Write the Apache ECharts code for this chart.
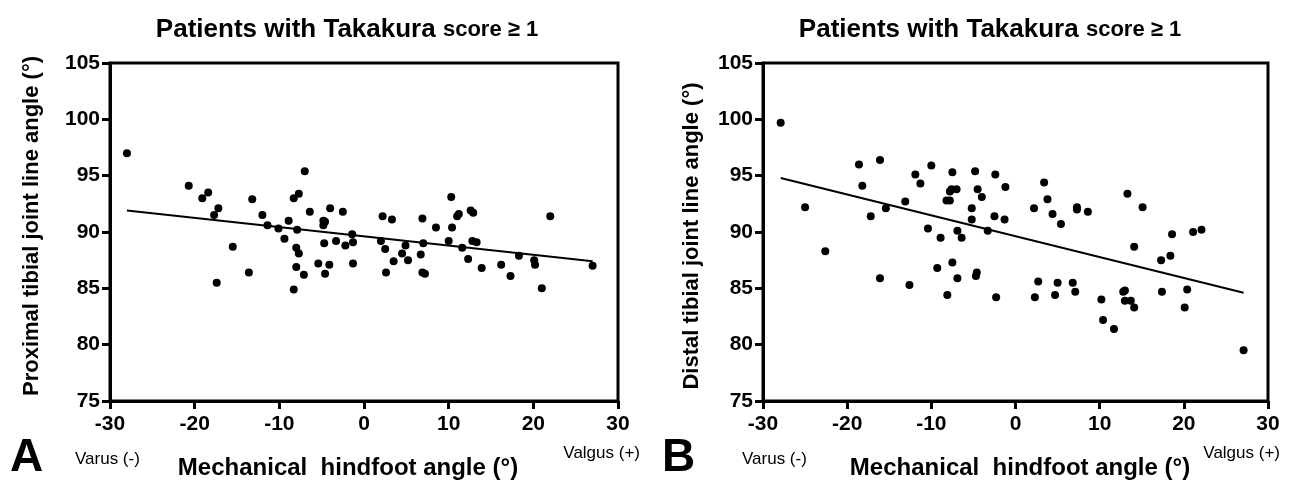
<!DOCTYPE html>
<html>
<head>
<meta charset="UTF-8">
<title>Takakura score scatter</title>
<script src="https://cdn.jsdelivr.net/npm/echarts@6/dist/echarts.min.js"></script>
<style>
  html, body { margin: 0; padding: 0; background: #fff; }
  #chart { width: 1295px; height: 487px; }
</style>
</head>
<body>
<div id="chart"></div>
<script>
  // Panel A: mechanical hindfoot angle vs proximal tibial joint line angle
  var hindfootA = [-28.0, -20.7, -19.1, -18.4, -17.2, -17.7, -17.4, -15.5, -13.6, -13.2,
    -12.0, -11.4, -10.1, -9.4, -8.9, -8.3, -7.7, -7.9, -8.0, -7.7,
    -8.0, -8.3, -7.1, -7.0, -6.4, -5.4, -4.8, -4.6, -4.8, -4.7,
    -4.6, -4.1, -4.0, -3.3, -2.5, -2.2, -1.4, -1.3, -1.3, 2.0,
    2.2, 2.5, 2.6, 3.3, 3.5, 4.5, 4.9, 5.2, 6.7, 6.9,
    7.0, 6.9, 7.2, 8.5, 10.0, 10.3, 10.4, 11.0, 11.2, 11.6,
    12.3, 12.6, 12.9, 12.8, 13.3, 13.9, 16.2, 17.3, 18.3, 20.1,
    20.2, 21.0, 22.0, 27.0];
  var proximalA = [97.0, 94.1, 93.0, 93.5, 92.1, 91.5, 85.5, 88.7, 86.4, 92.9,
    91.5, 90.6, 90.3, 89.4, 91.0, 93.0, 93.4, 90.2, 88.6, 88.1,
    86.9, 84.9, 86.2, 95.4, 91.8, 87.2, 91.0, 90.9, 90.6, 89.0,
    86.3, 87.1, 92.1, 89.2, 91.8, 88.8, 89.8, 89.1, 87.2, 89.2,
    91.4, 88.5, 86.4, 91.1, 87.4, 88.1, 88.8, 87.5, 88.0, 91.2,
    89.0, 86.4, 86.3, 90.4, 89.2, 93.1, 90.4, 91.4, 91.6, 88.6,
    87.6, 91.9, 91.7, 89.2, 89.1, 86.8, 87.1, 86.1, 87.9, 87.5,
    87.1, 85.0, 91.4, 87.0];
  var fitA = [[-28.0, 91.9], [27.0, 87.4]];

  // Panel B: mechanical hindfoot angle vs distal tibial joint line angle
  var hindfootB = [-27.9, -25.0, -22.6, -18.6, -18.2, -17.2, -16.1, -16.1, -15.4, -13.1,
    -12.6, -11.9, -11.3, -10.4, -10.0, -9.3, -8.9, -8.1, -8.2, -7.8,
    -7.8, -7.5, -7.6, -7.5, -7.0, -6.9, -6.9, -6.4, -5.2, -5.2,
    -4.8, -4.6, -4.7, -4.5, -4.0, -3.3, -2.4, -2.5, -2.3, -1.2,
    -1.3, 2.2, 2.3, 2.7, 3.4, 3.8, 4.4, 4.7, 5.0, 5.4,
    6.8, 7.1, 7.3, 7.3, 8.6, 10.2, 10.4, 11.7, 12.8, 13.0,
    13.0, 13.7, 13.3, 14.1, 14.1, 15.1, 17.3, 17.4, 18.4, 18.6,
    20.1, 20.4, 21.1, 22.1, 27.1];
  var distalB = [99.7, 92.2, 88.3, 96.0, 94.1, 91.4, 96.4, 85.9, 92.1, 92.7,
    85.3, 95.1, 94.3, 90.3, 95.9, 86.8, 89.5, 84.4, 92.8, 92.8,
    93.6, 95.3, 93.8, 87.3, 93.8, 90.1, 85.9, 89.5, 92.1, 91.1,
    95.4, 86.4, 86.1, 93.8, 93.1, 90.1, 95.1, 91.4, 84.2, 94.0,
    91.1, 92.1, 84.2, 85.6, 94.4, 92.9, 91.6, 84.4, 85.5, 90.7,
    85.5, 84.7, 92.2, 92.0, 91.8, 84.0, 82.2, 81.4, 84.7, 84.8,
    83.9, 83.9, 93.4, 83.3, 88.7, 92.2, 87.5, 84.7, 87.9, 89.8,
    83.3, 84.9, 90.0, 90.2, 79.5];
  var fitB = [[-27.9, 94.8], [27.1, 84.6]];

  var xTicks = [-30, 30, 10];   // min, max, interval
  var yTicks = [75, 105, 5];
  var titleText = 'Patients with Takakura ';
  var titleSmall = 'score \u2265 1';
  var xName = 'Mechanical  hindfoot angle (\u00b0)';
  var yNames = ['Proximal tibial joint line angle (\u00b0)', 'Distal tibial joint line angle (\u00b0)'];
  var panelLetters = ['A', 'B'];
  var sideNotes = ['Varus (-)', 'Valgus (+)'];

  var FONT = "'Liberation Sans', Arial, sans-serif";
  var grids = [
    { left: 110, top: 63, width: 508, height: 338 },
    { left: 763, top: 63, width: 505, height: 338 }
  ];
  // text anchors per panel (page pixels)
  var layout = [
    { titleX: 347, yNameX: 32, yNameY: 226, xNameX: 348, letterX: 10, varusX: 75, valgusR: 640 },
    { titleX: 990, yNameX: 692, yNameY: 236, xNameX: 1020, letterX: 662, varusX: 742, valgusR: 1280 }
  ];

  function toPairs(xs, ys) {
    var out = [];
    for (var i = 0; i < xs.length; i++) out.push([xs[i], ys[i]]);
    return out;
  }

  var chart = echarts.init(document.getElementById('chart'), null, { renderer: 'canvas' });

  var xAxes = [], yAxes = [], graphics = [];
  grids.forEach(function (g, i) {
    g.show = true;
    g.borderColor = '#000';
    g.borderWidth = 3;
    g.containLabel = false;
    xAxes.push({
      type: 'value', gridIndex: i,
      min: xTicks[0], max: xTicks[1], interval: xTicks[2],
      axisLine: { onZero: false, lineStyle: { color: '#000', width: 3 } },
      axisTick: { show: true, inside: false, length: 8, lineStyle: { color: '#000', width: 3 } },
      axisLabel: { fontFamily: FONT, fontWeight: 'bold', fontSize: 21, color: '#000', margin: 13 },
      splitLine: { show: false }
    });
    yAxes.push({
      type: 'value', gridIndex: i,
      min: yTicks[0], max: yTicks[1], interval: yTicks[2],
      axisLine: { onZero: false, lineStyle: { color: '#000', width: 3 } },
      axisTick: { show: true, inside: false, length: 8, lineStyle: { color: '#000', width: 3 } },
      axisLabel: { fontFamily: FONT, fontWeight: 'bold', fontSize: 21, color: '#000', margin: 10 },
      splitLine: { show: false }
    });
    var L = layout[i];
    graphics.push({
      type: 'text', x: L.titleX, y: 30,
      style: {
        text: '{a|' + titleText + '}{b|' + titleSmall + '}',
        align: 'center', verticalAlign: 'middle',
        rich: {
          a: { fontFamily: FONT, fontWeight: 'bold', fontSize: 26, fill: '#000' },
          b: { fontFamily: FONT, fontWeight: 'bold', fontSize: 22, fill: '#000' }
        }
      }
    });
    graphics.push({
      type: 'text', x: L.yNameX, y: L.yNameY, rotation: Math.PI / 2,
      style: { text: yNames[i], align: 'center', verticalAlign: 'middle',
        fontFamily: FONT, fontWeight: 'bold', fontSize: 22, fill: '#000' }
    });
    graphics.push({
      type: 'text', x: L.xNameX, y: 468,
      style: { text: xName, align: 'center', verticalAlign: 'middle',
        fontFamily: FONT, fontWeight: 'bold', fontSize: 24, fill: '#000' }
    });
    graphics.push({
      type: 'text', x: L.letterX, y: 458,
      style: { text: panelLetters[i], align: 'left', verticalAlign: 'middle',
        fontFamily: FONT, fontWeight: 'bold', fontSize: 46, fill: '#000' }
    });
    graphics.push({
      type: 'text', x: L.varusX, y: 459,
      style: { text: sideNotes[0], align: 'left', verticalAlign: 'middle',
        fontFamily: FONT, fontSize: 17, fill: '#000' }
    });
    graphics.push({
      type: 'text', x: L.valgusR, y: 453,
      style: { text: sideNotes[1], align: 'right', verticalAlign: 'middle',
        fontFamily: FONT, fontSize: 17, fill: '#000' }
    });
  });

  chart.setOption({
    animation: false,
    backgroundColor: '#fff',
    grid: grids,
    xAxis: xAxes,
    yAxis: yAxes,
    graphic: graphics,
    series: [
      { type: 'scatter', xAxisIndex: 0, yAxisIndex: 0, data: toPairs(hindfootA, proximalA),
        symbolSize: 8, itemStyle: { color: '#000', opacity: 1 } },
      { type: 'line', xAxisIndex: 0, yAxisIndex: 0, data: fitA, symbol: 'none',
        lineStyle: { color: '#000', width: 2 } },
      { type: 'scatter', xAxisIndex: 1, yAxisIndex: 1, data: toPairs(hindfootB, distalB),
        symbolSize: 8, itemStyle: { color: '#000', opacity: 1 } },
      { type: 'line', xAxisIndex: 1, yAxisIndex: 1, data: fitB, symbol: 'none',
        lineStyle: { color: '#000', width: 2 } }
    ]
  });
</script>
</body>
</html>
